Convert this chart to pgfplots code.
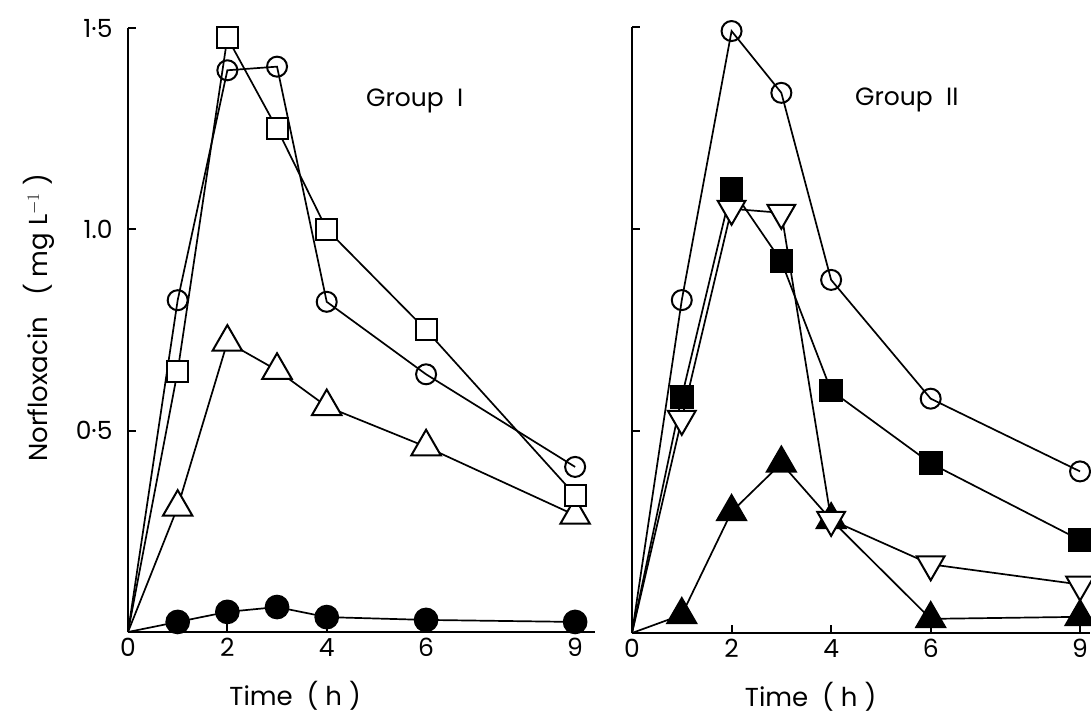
\documentclass[border=0pt]{standalone}
\usepackage{pgfplots}
\pgfplotsset{compat=1.18}
\usepackage{fontspec}
\setmainfont{Poppins}
\begin{document}
\begin{tikzpicture}
\path[use as bounding box] (0pt,0pt) rectangle (1091pt,715pt);
\pgfplotsset{
  panel/.style={
    scale only axis, axis x line=bottom, axis y line=left,
    axis line style={line width=2.5pt, -},
    xmin=0, ymin=0, ymax=1.5,
    xtick={0,2,4,6,9}, xticklabels={0,2,4,6,9},
    ytick={0.5,1.0,1.5},
    tick style={line width=2pt, black},
    major tick length=8pt, tick align=inside,
    every tick label/.style={font=\fontsize{25}{28}\selectfont},
    xticklabel style={yshift=-3pt},
    yticklabel style={xshift=-12pt},
    label style={font=\fontsize{26}{29}\selectfont},
    clip=false,
  },
  ln/.style={black, line width=1.7pt, mark indices={2,3,4,5,6,7}},
  oc/.style={ln, mark=o, mark size=10pt, mark options={fill=white, line width=2pt}},
  os/.style={ln, mark=square*, mark size=10.5pt, mark options={fill=white, line width=2pt}},
  ot/.style={ln, mark=triangle*, mark size=17pt, mark options={fill=white, line width=2pt}},
  odt/.style={ln, mark=triangle*, mark size=16pt, mark options={fill=white, line width=2pt, rotate=180}},
  fc/.style={ln, mark=*, mark size=11.5pt, mark options={fill=black}},
  fs/.style={ln, mark=square*, mark size=11pt, mark options={fill=black}},
  ft/.style={ln, mark=triangle*, mark size=17pt, mark options={fill=black}},
}
\begin{axis}[panel, at={(128pt,83pt)}, anchor=south west,
  width=467pt, height=604pt, xmax=9.4,
  yticklabels={0·5,1.0,1·5},
  xlabel={Time\ \ ( h )}, xlabel style={at={(axis description cs:0.358,-0.105)}, anchor=center},
  ylabel={Norfloxacin\ \ \ ( mg L$^{-1}$ )}, ylabel style={at={(axis description cs:-0.19,0.52)}, anchor=center},
]
\addplot[fc] coordinates {(0,0)(1,0.025)(2,0.05)(3,0.062)(4,0.037)(6,0.03)(9,0.025)};
\addplot[ot] coordinates {(0,0)(1,0.31)(2,0.72)(3,0.65)(4,0.56)(6,0.46)(9,0.29)};
\addplot[oc] coordinates {(0,0)(1,0.824)(2,1.395)(3,1.404)(4,0.82)(6,0.64)(9,0.41)};
\addplot[os] coordinates {(0,0)(1,0.648)(2,1.476)(3,1.25)(4,1.0)(6,0.75)(9,0.34)};
\node[font=\fontsize{25}{28}\selectfont] at (axis cs:5.77,1.32) {Group\ \ I};
\end{axis}
\begin{axis}[panel, at={(632pt,82pt)}, anchor=south west,
  width=458pt, height=606pt, xmax=9.2,
  yticklabels={},
  xlabel={Time\ \ ( h )}, xlabel style={at={(axis description cs:0.39,-0.105)}, anchor=center},
]
\addplot[ft] coordinates {(0,0)(1,0.045)(2,0.30)(3,0.42)(4,0.28)(6,0.035)(9,0.04)};
\addplot[odt] coordinates {(0,0)(1,0.53)(2,1.05)(3,1.04)(4,0.28)(6,0.17)(9,0.12)};
\addplot[fs] coordinates {(0,0)(1,0.585)(2,1.10)(3,0.92)(4,0.60)(6,0.42)(9,0.23)};
\addplot[oc] coordinates {(0,0)(1,0.824)(2,1.49)(3,1.337)(4,0.874)(6,0.58)(9,0.40)};
\node[font=\fontsize{25}{28}\selectfont] at (axis cs:5.52,1.32) {Group\ \ II};
\end{axis}
\end{tikzpicture}
\end{document}
